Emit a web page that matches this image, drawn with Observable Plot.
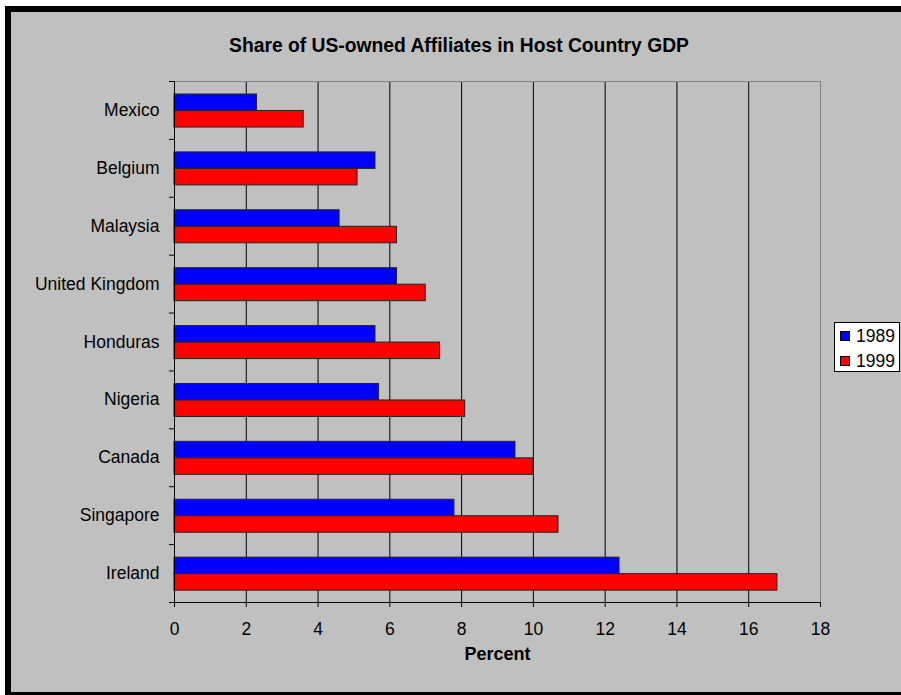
<!DOCTYPE html>
<html><head><meta charset="utf-8">
<script src="https://cdn.jsdelivr.net/npm/d3@7"></script>
<script src="https://cdn.jsdelivr.net/npm/@observablehq/plot@0.6"></script>
<style>
html,body{margin:0;padding:0;background:#fff;width:901px;height:695px;overflow:hidden;font-family:"Liberation Sans",Arial,sans-serif;}
#frame{position:absolute;left:5px;top:6px;width:890px;height:680px;border-left:6px solid #000;border-top:6px solid #000;border-bottom:3px solid #000;background:#c0c0c0;overflow:hidden;}
#title{position:absolute;left:0;top:23px;width:890px;padding-left:6px;box-sizing:border-box;text-align:center;font-size:19.3px;font-weight:bold;line-height:22px;color:#000;}
#chart{position:absolute;left:0;top:0;}
#legend{position:absolute;left:823px;top:310px;width:66px;height:50px;box-sizing:border-box;border:1px solid #000;background:#fff;}
.item{position:absolute;left:5px;height:20px;line-height:20px;font-size:17.5px;color:#000;white-space:nowrap;}
.sw{display:inline-block;width:10px;height:10px;border:1px solid #000;box-sizing:border-box;vertical-align:middle;margin-right:6px;position:relative;top:-1px;}
</style>
</head><body>
<div id="frame">
  <div id="chart"></div>
  <div id="title"></div>
  <div id="legend"></div>
</div>
<script>
const title = "Share of US-owned Affiliates in Host Country GDP";
const axisTitle = "Percent";
const countries = ["Mexico","Belgium","Malaysia","United Kingdom","Honduras","Nigeria","Canada","Singapore","Ireland"];
const v1989 = [2.3, 5.6, 4.6, 6.2, 5.6, 5.7, 9.5, 7.8, 12.4];
const v1999 = [3.6, 5.1, 6.2, 7.0, 7.4, 8.1, 10.0, 10.7, 16.8];
const years = ["1989", "1999"];
const colors = ["#0000ff", "#ff0000"];
const xTicks = [0, 2, 4, 6, 8, 10, 12, 14, 16, 18];

const rows = [];
countries.forEach((c, i) => {
  rows.push({country: c, idx: i, year: years[0], value: v1989[i]});
  rows.push({country: c, idx: i, year: years[1], value: v1999[i]});
});
// bar slots within each category band
const slot = {"1989": [0.225, 0.51], "1999": [0.51, 0.795]};

document.getElementById("title").textContent = title;

const chart = Plot.plot({
  width: 890,
  height: 680,
  marginLeft: 163,
  marginRight: 81,
  marginTop: 69,
  marginBottom: 90,
  style: {fontFamily: "'Liberation Sans', Arial, sans-serif", fontSize: "17.5px", background: "transparent", color: "#000"},
  x: {domain: [0, 18], label: null},
  y: {domain: [0, countries.length], reverse: true, label: null},
  color: {domain: years, range: colors},
  marks: [
    Plot.ruleX(xTicks.filter(d => d > 0 && d < 18), {stroke: "#000", strokeWidth: 1}),
    Plot.ruleX([18], {stroke: "#808080"}),
    Plot.ruleY([0], {stroke: "#808080"}),
    Plot.rect(rows, {
      x1: 0,
      x2: "value",
      y1: d => d.idx + slot[d.year][0],
      y2: d => d.idx + slot[d.year][1],
      fill: "year",
      stroke: "#222",
      strokeWidth: 1
    }),
    Plot.ruleX([0], {stroke: "#000"}),
    Plot.ruleY([countries.length], {stroke: "#000"}),
    Plot.axisX({ticks: xTicks, tickSize: 5, tickPadding: 15, tickFormat: d => String(d), label: null}),
    Plot.axisY({ticks: d3.range(0, countries.length + 1), tickSize: 5, tickFormat: () => "", label: null}),
    Plot.axisY({ticks: countries.map((_, i) => i + 0.5), tickSize: 0, tickPadding: 15, tickFormat: d => countries[Math.floor(d)], label: null}),
    Plot.text([axisTitle], {frameAnchor: "bottom", dy: 57, text: d => d, fontWeight: "bold", fontSize: 18, fill: "#000"})
  ]
});
document.getElementById("chart").appendChild(chart);

const legend = document.getElementById("legend");
years.forEach((y, i) => {
  const it = document.createElement("div");
  it.className = "item";
  it.style.top = (3 + i * 25) + "px";
  const sw = document.createElement("span");
  sw.className = "sw";
  sw.style.background = colors[i];
  it.appendChild(sw);
  it.appendChild(document.createTextNode(y));
  legend.appendChild(it);
});
</script>
</body></html>
